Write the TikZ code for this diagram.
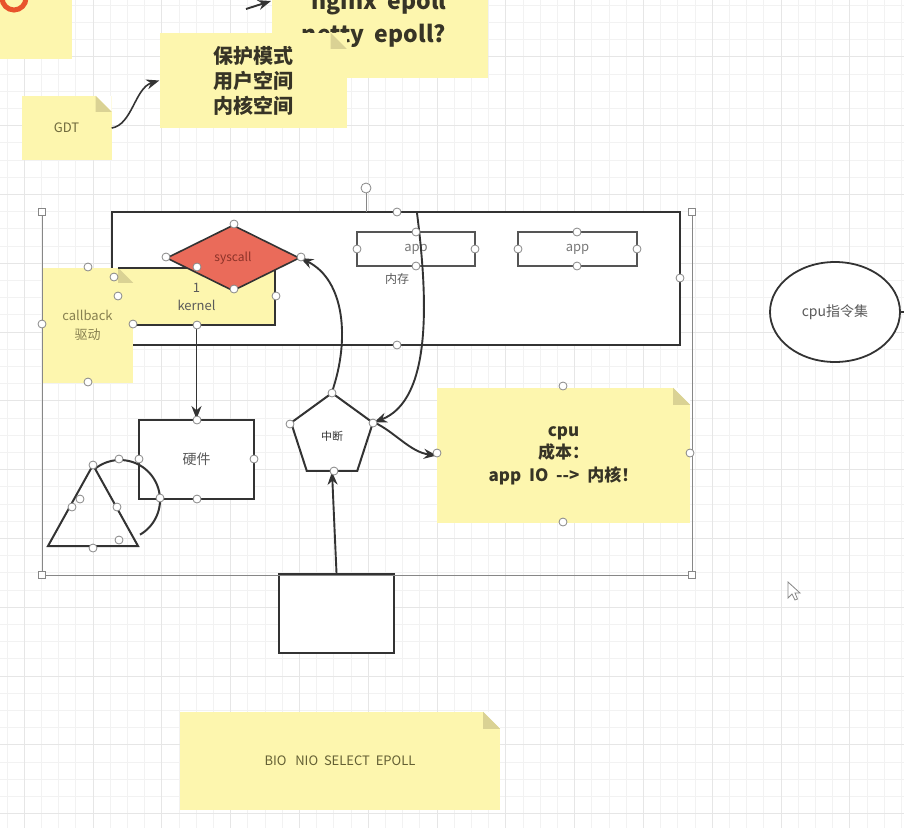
\documentclass[tikz,border=0pt]{standalone}
\usepackage{fontspec}
\newfontfamily\cjk{Noto Sans CJK SC}
\usetikzlibrary{arrows.meta,shapes.geometric}
\definecolor{noteY}{RGB}{253,246,174}
\definecolor{foldC}{RGB}{218,210,148}
\definecolor{dk}{RGB}{51,51,51}
\definecolor{hg}{RGB}{135,135,135}
\definecolor{salmon}{RGB}{234,107,90}
\definecolor{olive}{RGB}{110,105,60}
\definecolor{txtdk}{RGB}{55,52,38}
\definecolor{appc}{RGB}{85,85,85}
\definecolor{appt}{RGB}{120,120,120}
\definecolor{sysT}{RGB}{140,50,40}
\definecolor{grayT}{RGB}{90,90,90}
\definecolor{gmin}{RGB}{242,242,242}
\definecolor{gmaj}{RGB}{230,230,230}
\definecolor{ringc}{RGB}{232,83,43}
\newcommand\mynotefold[3]{%
  \fill[#2] ([xshift=-#3]#1.north east) -- (#1.north east) -- ([yshift=-#3]#1.north east) -- cycle;
  \fill[foldC] ([xshift=-#3]#1.north east) -- ([yshift=-#3]#1.north east) -- ([xshift=-#3,yshift=-#3]#1.north east) -- cycle;}
\begin{document}
\begin{tikzpicture}[x=1pt,y=-1pt,
  note/.style={fill=noteY, inner sep=0pt, align=center, text=olive, font=\cjk\fontsize{13}{17}\selectfont},
  bnote/.style={note, text=txtdk, font=\cjk\bfseries\fontsize{17}{22.5}\selectfont},
  shapebox/.style={draw=dk, line width=2pt, fill=white, inner sep=0pt},
  appbox/.style={draw=appc, line width=2pt, fill=white, inner sep=0pt, text=appt, font=\cjk\fontsize{13}{16}\selectfont},
  hdl/.style={draw=hg, fill=white, line width=0.8pt},
  arr/.style={draw=dk, line width=1.9pt, -{Stealth[length=13pt,width=10pt]}},
  lbl/.style={inner sep=0pt, font=\cjk\fontsize{12}{14}\selectfont, text=grayT},
  gmn/.style={draw=gmin, line width=0.7pt},
  gmj/.style={draw=gmaj, line width=0.9pt},
  bigt/.style={anchor=base, inner sep=0pt, text=txtdk, font=\cjk\bfseries\fontsize{23}{28}\selectfont}]
\useasboundingbox (0,0) rectangle (904,828);
\clip (0,0) rectangle (904,828);
\fill[white] (0,0) rectangle (904,828);
% grid
\foreach \i in {0,...,52} {\draw[gmn] ({7+17.2*\i},0) -- ({7+17.2*\i},828);}
\foreach \i in {0,...,48} {\draw[gmn] (0,{5.2+17.2*\i}) -- (904,{5.2+17.2*\i});}
\foreach \i in {0,...,12} {\draw[gmj] ({24.2+68.8*\i},0) -- ({24.2+68.8*\i},828);}
\foreach \i in {0,...,11} {\draw[gmj] (0,{56.8+68.8*\i}) -- (904,{56.8+68.8*\i});}

% top area
\node[note, minimum width=74pt, minimum height=61pt] (tl) at (35,28.5) {};
\draw[ringc, line width=5pt] (14,-2) circle[radius=12pt];
\node[note, minimum width=216pt, minimum height=84pt] (ngx) at (380,36) {};
\node[bigt] (ng1) at (379,9) {nginx\ \ epoll};
\node[bigt] (ng2) at (374,42) {netty\ \ epoll?};
\coordinate (nga) at (246,9);
\coordinate (ngb) at (271,1);
\draw[arr] (nga) -- (ngb);
\node[bnote, font=\cjk\bfseries\fontsize{20}{25}\selectfont, minimum width=187pt, minimum height=95pt] (prot) at (253,80.5) {保护模式\\用户空间\\内核空间};
\mynotefold{prot}{noteY}{16pt}
\node[note, minimum width=90pt, minimum height=64pt] (gdt) at (66.5,128) {GDT};
\mynotefold{gdt}{white}{16pt}
\draw[arr, line width=1.6pt] (gdt.east) .. controls (132,125) and (135,88) .. (prot.west);

% inner container
\node[draw=dk, line width=2pt, fill=white, minimum width=568pt, minimum height=133pt, inner sep=0pt] (kspace) at (396,278.5) {};
\node[appbox, minimum width=118pt, minimum height=34pt] (app1) at (416,249) {app};
\node[appbox, minimum width=119pt, minimum height=34pt] (app2) at (577.5,249) {app};
\node[lbl] (mem) at (397,279) {内存};

% kernel + callback
\node[fill=noteY, minimum width=157pt, minimum height=57pt, inner sep=0pt, align=center, text=grayT, font=\cjk\fontsize{13}{18}\selectfont] (kernel) at (196.5,296.5) {1\\kernel};
\node[note, minimum width=91pt, minimum height=115pt, font=\cjk\fontsize{13}{19}\selectfont, text={rgb,255:red,135;green,128;blue,80}] (cb) at (87.5,325.5) {callback\\驱动};
\mynotefold{cb}{noteY}{15pt}
\draw[dk, line width=2pt] (kernel.north west) -- (kernel.north east) -- (kernel.south east) -- ([xshift=15pt]kernel.south west);
\node[diamond, aspect=2, draw=dk, line width=1.6pt, fill=salmon, minimum width=133pt, minimum height=66pt, inner sep=0pt, text=sysT, font=\cjk\fontsize{12}{14}\selectfont] (sys) at (233,258) {syscall};

% hardware and shapes
\node[shapebox, minimum width=115pt, minimum height=79pt, text=grayT, font=\cjk\fontsize{14}{16}\selectfont] (hw) at (196.5,459.5) {硬件};
\draw[arr] (kernel.south) -- (hw.north);
\draw[dk, line width=2pt] (93,465) -- (48,546) -- (138,546) -- cycle;
\draw[dk, line width=2pt] plot[domain=-128:60, samples=50] ({120+40*cos(\x)},{500+40*sin(\x)});

% interrupt
\node[regular polygon, regular polygon sides=5, minimum size=86pt, draw=dk, line width=2pt, fill=white, inner sep=0pt, text=dk, font=\cjk\fontsize{11}{13}\selectfont] (pent) at (332,436) {中断};
\node[bnote, minimum width=253pt, minimum height=135pt] (cpu) at (563.5,455.5) {cpu\\成本：\\app\ \ IO\ \ -{}-{}>\ \ 内核！};
\mynotefold{cpu}{white}{17pt}
\coordinate (ktop) at (417,213);
\draw[arr] (pent.corner 1) .. controls (350,340) and (345,280) .. (sys.east);
\draw[arr] (ktop) .. controls (428,300) and (432,400) .. (pent.corner 5);
\draw[arr] (pent.corner 5) .. controls (395,432) and (410,452) .. (cpu.west);

% bottom
\node[shapebox, minimum width=115pt, minimum height=79pt] (bbox) at (336.5,613.5) {};
\draw[arr] (bbox.north) -- (pent.side 3);
\node[note, minimum width=320pt, minimum height=98pt, text={rgb,255:red,100;green,96;blue,52}] (bnio) at (340,761) {BIO\ \ \ NIO\ \ SELECT\ \ EPOLL};
\mynotefold{bnio}{white}{17pt}

% ellipse
\node[ellipse, draw=dk, line width=1.8pt, fill=white, minimum width=130pt, minimum height=100pt, inner sep=0pt, text=grayT, font=\cjk\fontsize{14}{16}\selectfont] (ell) at (835,312) {cpu指令集};
\coordinate (stub) at (910,312);
\draw[dk, line width=1.8pt] (ell.east) -- (stub);

% cursor
\draw[hg, line width=0.8pt, fill=white] (788,582) -- (788,598) -- (792,594) -- (795,600) -- (797.5,599) -- (795,593) -- (800,593) -- cycle;

% selection frame
\draw[hg, line width=0.8pt] (42,212) -- (42,575) -- (692,575) -- (692,212);
\draw[hg, line width=0.8pt] (366,193) -- (366,212);
\draw[hdl] (366,188) circle[radius=5pt];
\foreach \p in {(42,212),(692,212),(42,575),(692,575)} {\draw[hdl] \p ++(-3.5,-3.5) rectangle ++(7,7);}
\foreach \p in {(397,212),(397,345),(680,278),
  (416,232),(416,266),(357,249),(475,249),
  (577,232),(577,266),(518,249),(637,249),
  (234,224),(166,257),(301,257),(234,289),(197,267),
  (88,267),(114,277),(118,296),(42,324),(133,324),(88,382),(197,325),(276,296),
  (197,420),(254,459),(197,499),(139,459),
  (93,465),(119,459),(160,498),(80,499),(72,507),(117,507),(93,548),(119,540),
  (332,393),(290,424),(373,423),(334,471),
  (563,386),(437,453),(690,453),(563,522)}
  {\draw[hdl] \p circle[radius=4pt];}
\end{tikzpicture}
\end{document}
